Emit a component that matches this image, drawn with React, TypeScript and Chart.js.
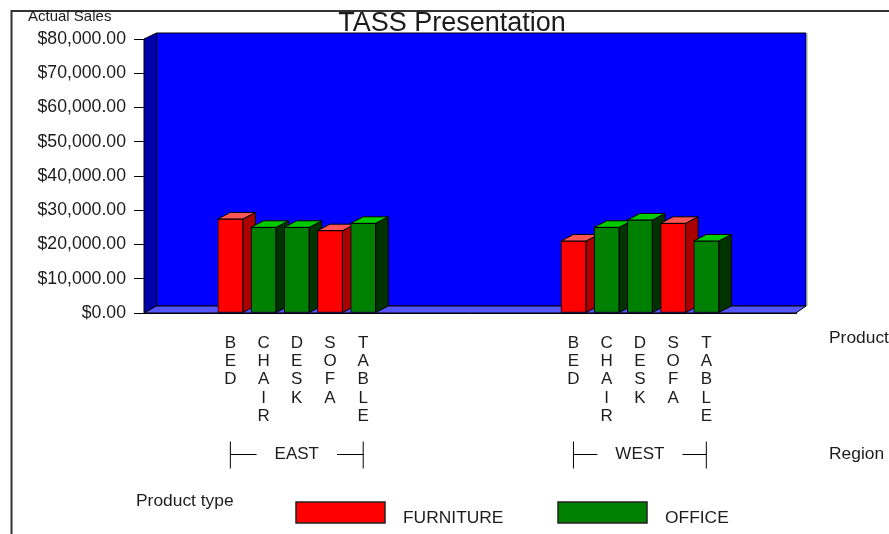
import React, { useEffect, useRef } from "react";
import { Chart, registerables } from "chart.js";

Chart.register(...registerables);

const chartTitle = "TASS Presentation";
const yAxisName = "Actual Sales";
const productAxisName = "Product";
const regionAxisName = "Region";
const legendName = "Product type";

const products = ["BED", "CHAIR", "DESK", "SOFA", "TABLE"];
const productTypes = ["FURNITURE", "OFFICE", "OFFICE", "FURNITURE", "OFFICE"];
const regions = ["EAST", "WEST"];
const regionStart = [0, 10.33];

const eastSales = [27450, 25020, 25020, 24040, 26190];
const westSales = [21020, 25020, 27150, 26190, 21020];
const salesByRegion = [eastSales, westSales];

const yTicksMax = 80000;
const yTickStep = 10000;

const FONT = '"Liberation Sans", Arial, sans-serif';
const TEXT = "#1c1c1c";
const DX = 12.5;
const DY = 7;
const BAR_DX = 12.5;
const BAR_DY = 6.5;

const typeStyles: Record<string, { front: string; side: string; top: string }> = {
  FURNITURE: { front: "#ff0000", side: "#aa0000", top: "#ff5555" },
  OFFICE: { front: "#008000", side: "#003300", top: "#00cc00" },
};

const slots = regionStart.flatMap((s) => products.map((_, i) => s + i));
const tickNames = regions.flatMap(() => products);

function pointsFor(type: string) {
  const out: { x: number; y: number }[] = [];
  regionStart.forEach((s, r) => {
    products.forEach((_, i) => {
      if (productTypes[i] === type) out.push({ x: s + i, y: salesByRegion[r][i] });
    });
  });
  return out;
}

function poly(ctx: CanvasRenderingContext2D, pts: number[][], fill: string, stroke = "#000") {
  ctx.beginPath();
  pts.forEach(([x, y], i) => (i ? ctx.lineTo(x, y) : ctx.moveTo(x, y)));
  ctx.closePath();
  ctx.fillStyle = fill;
  ctx.fill();
  ctx.strokeStyle = stroke;
  ctx.lineWidth = 1;
  ctx.stroke();
}

function label(ctx: CanvasRenderingContext2D, s: string, x: number, y: number, size = 17.4) {
  ctx.font = `${size}px ${FONT}`;
  ctx.fillStyle = TEXT;
  ctx.textAlign = "left";
  ctx.textBaseline = "middle";
  ctx.fillText(s, x, y);
}

const scene3d = {
  id: "scene3d",
  afterLayout(chart: any) {
    // the title sits a little left of the plot's centre
    chart.titleBlock.left = 108;
    chart.titleBlock.right = 796;
  },
  beforeDatasetsDraw(chart: any) {
    const { ctx, chartArea: a } = chart;
    ctx.save();
    // walls and floor
    poly(ctx, [[a.left + DX, a.top - DY + 1], [a.right + 10, a.top - DY + 1], [a.right + 10, a.bottom - DY], [a.left + DX, a.bottom - DY]], "#0000ff");
    ctx.strokeStyle = "#a0a0a0";
    ctx.beginPath();
    ctx.moveTo(a.right + 11, a.top - DY + 1);
    ctx.lineTo(a.right + 11, a.bottom - DY);
    ctx.stroke();
    poly(ctx, [[a.left, a.top], [a.left + DX, a.top - DY + 1], [a.left + DX, a.bottom - DY], [a.left, a.bottom]], "#0000aa");
    poly(ctx, [[a.left, a.bottom], [a.left + DX, a.bottom - DY], [a.right + 10, a.bottom - DY], [a.right, a.bottom]], "#5555ff");
    // bar sides and tops, left to right; the fronts are drawn by the library
    const bars: { el: any; type: string }[] = [];
    chart.data.datasets.forEach((ds: any, i: number) => {
      chart.getDatasetMeta(i).data.forEach((el: any) => bars.push({ el, type: ds.label }));
    });
    bars.sort((p, q) => p.el.x - q.el.x);
    bars.forEach(({ el, type }) => {
      const st = typeStyles[type];
      const l = el.x - el.width / 2;
      const r = el.x + el.width / 2;
      poly(ctx, [[r, el.y], [r + BAR_DX, el.y - BAR_DY], [r + BAR_DX, el.base - BAR_DY], [r, el.base]], st.side);
      poly(ctx, [[l, el.y], [l + BAR_DX, el.y - BAR_DY], [r + BAR_DX, el.y - BAR_DY], [r, el.y]], st.top);
    });
    ctx.restore();
  },
  afterDraw(chart: any) {
    const { ctx, scales } = chart;
    ctx.save();
    // page frame
    ctx.strokeStyle = "#333";
    ctx.lineWidth = 2;
    ctx.beginPath();
    ctx.moveTo(11.5, 534);
    ctx.lineTo(11.5, 11);
    ctx.lineTo(889, 11);
    ctx.stroke();

    label(ctx, yAxisName, 28, 17, 15);
    label(ctx, productAxisName, 829, 338);
    label(ctx, regionAxisName, 829, 454);
    label(ctx, legendName, 136, 501);

    // region brackets
    regions.forEach((name, r) => {
      const x0 = scales.x.getPixelForValue(regionStart[r]);
      const x1 = scales.x.getPixelForValue(regionStart[r] + products.length - 1);
      const mid = (x0 + x1) / 2;
      ctx.font = `17px ${FONT}`;
      const w = ctx.measureText(name).width;
      ctx.strokeStyle = "#000";
      ctx.lineWidth = 1;
      ctx.beginPath();
      ctx.moveTo(x0, 441.5);
      ctx.lineTo(x0, 468.5);
      ctx.moveTo(x0, 454.5);
      ctx.lineTo(mid - w / 2 - 18, 454.5);
      ctx.moveTo(mid + w / 2 + 18, 454.5);
      ctx.lineTo(x1, 454.5);
      ctx.moveTo(x1, 441.5);
      ctx.lineTo(x1, 468.5);
      ctx.stroke();
      ctx.fillStyle = TEXT;
      ctx.textAlign = "center";
      ctx.textBaseline = "middle";
      ctx.fillText(name, mid, 454);
    });

    // legend
    chart.data.datasets.forEach((ds: any, i: number) => {
      const bx = i === 0 ? 296 : 558;
      ctx.fillStyle = ds.backgroundColor;
      ctx.fillRect(bx, 502, 89, 21);
      ctx.strokeStyle = "#222";
      ctx.lineWidth = 1.5;
      ctx.strokeRect(bx, 502, 89, 21);
      label(ctx, ds.label, bx + 107, 518);
    });
    ctx.restore();
  },
};

export default function App() {
  const ref = useRef<HTMLCanvasElement>(null);
  useEffect(() => {
    document.body.style.margin = "0";
    const chart = new Chart(ref.current as HTMLCanvasElement, {
      type: "bar",
      data: {
        datasets: ["FURNITURE", "OFFICE"].map((t) => ({
          label: t,
          data: pointsFor(t),
          backgroundColor: typeStyles[t].front,
          borderColor: "#000",
          borderWidth: 1,
          borderSkipped: false,
          barThickness: 25,
          grouped: false,
        })) as any,
      },
      options: {
        responsive: false,
        animation: false,
        devicePixelRatio: 1,
        layout: { padding: { left: 16, right: 93, top: 0, bottom: 0 } },
        plugins: {
          legend: { display: false },
          tooltip: { enabled: false },
          title: {
            display: true,
            text: chartTitle,
            color: TEXT,
            align: "center",
            font: { family: FONT, size: 27, weight: "normal", lineHeight: 1.1 },
            padding: { top: 8.5, bottom: 0.8 },
          },
        },
        scales: {
          x: {
            type: "linear",
            offset: false,
            min: -2.6,
            max: 17.03,
            afterBuildTicks(scale: any) {
              scale.ticks = slots.map((value) => ({ value }));
            },
            afterFit(scale: any) {
              scale.height = 221;
            },
            grid: { offset: false, drawOnChartArea: false, drawTicks: false },
            border: { display: true, color: "#000" },
            ticks: {
              autoSkip: false,
              maxRotation: 0,
              minRotation: 0,
              padding: 21,
              color: TEXT,
              font: { family: FONT, size: 17, lineHeight: "18.3px" },
              callback: (_v: any, i: number) => tickNames[i].split(""),
            },
          },
          y: {
            min: 0,
            max: yTicksMax,
            afterFit(scale: any) {
              scale.width = 128;
            },
            grid: { drawOnChartArea: false, color: "#000", tickLength: 10 },
            border: { display: true, color: "#000" },
            ticks: {
              stepSize: yTickStep,
              padding: 8,
              color: TEXT,
              font: { family: FONT, size: 17.7 },
              callback: (v: any) =>
                "$" + Number(v).toLocaleString("en-US", { minimumFractionDigits: 2, maximumFractionDigits: 2 }),
            },
          },
        },
      } as any,
      plugins: [scene3d as any],
    });
    return () => chart.destroy();
  }, []);
  return <canvas ref={ref} width={889} height={534} style={{ display: "block" }} />;
}
